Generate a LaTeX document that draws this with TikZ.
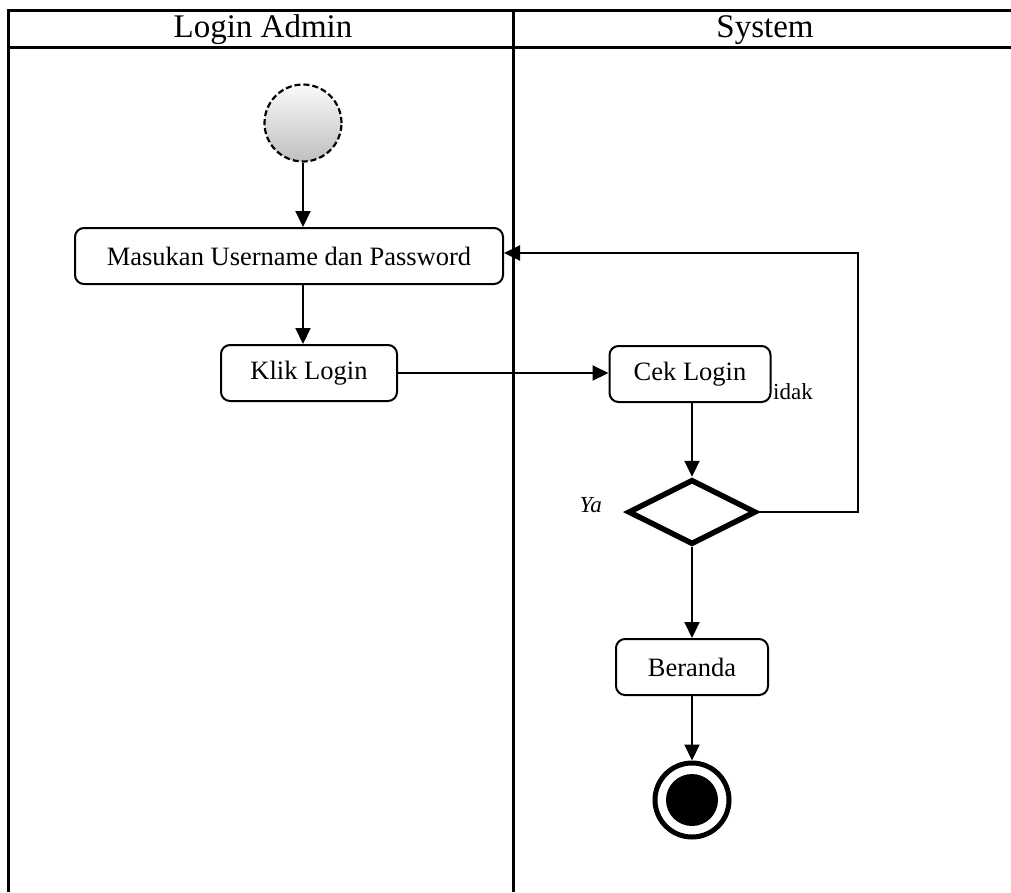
\documentclass[tikz,border=0pt]{standalone}
\usepackage{fontspec}
\setmainfont{Liberation Serif}
\usetikzlibrary{arrows.meta,shapes.geometric,calc}
\begin{document}
\begin{tikzpicture}[x=1pt,y=-1pt,
  lane/.style={line width=3pt},
  act/.style={draw,line width=2pt,rounded corners=9pt,fill=white,align=center,
    font=\fontsize{26.5}{30}\selectfont,inner sep=0pt},
  flow/.style={line width=2pt,-{Triangle[length=16pt,width=15pt]}},
  head/.style={font=\fontsize{33}{36}\selectfont}
]
\useasboundingbox (0,0) rectangle (1011,892);
% swimlane frame
\draw[lane] (1011,10) -- (8,10) -- (8,892);
\draw[lane] (8,47) -- (1011,47);
\draw[lane] (513,10) -- (513,892);
\node[head] (h1) at (263,30) {Login Admin};
\node[head] (h2) at (765,30) {System};

% initial node
\node[circle,minimum size=77pt,inner sep=0pt,top color=gray!4,bottom color=gray!50,
  draw,line width=2.2pt,dash pattern=on 6pt off 3pt] (start) at (303,123) {};

% activities
\node[act,minimum width=428pt,minimum height=56pt] (masuk) at (289,256) {Masukan Username dan Password};
\node[act,minimum width=176pt,minimum height=56pt] (klik) at (309,373) {Klik Login};
\node[act,minimum width=161pt,minimum height=56pt] (cek) at (690,374) {Cek Login};
\node[act,minimum width=152pt,minimum height=56pt] (beranda) at (692,667) {Beranda};

% decision
\node[diamond,draw,line width=5.5pt,minimum width=128pt,minimum height=65pt,inner sep=0pt,aspect=2] (dec) at (692,512) {};

% final node
\node[circle,draw,line width=5pt,minimum size=74pt,inner sep=0pt] (fin) at (692,800) {};
\node[circle,fill=black,minimum size=52pt,inner sep=0pt] (fincore) at (fin.center) {};

% guard labels
\node[anchor=west,font=\fontsize{23}{26}\selectfont,inner sep=0pt] (tidak) at (773,392) {idak};
\node[anchor=east,font=\itshape\fontsize{23}{26}\selectfont,inner sep=0pt] (ya) at (602,505) {Ya};

% control flows
\draw[flow] (start.south) -- (start |- masuk.north);
\draw[flow] (masuk.south -| start) -- (klik.north -| start);
\draw[flow] (klik) -- (klik -| cek.west);
\draw[flow] (cek.south -| dec.north) -- (dec.north);
\draw[flow] (dec.east) -- ++(99,0) |- ($(masuk.east)+(0,-3)$);
\draw[flow] (dec.south) -- (beranda);
\draw[flow] (beranda) -- (fin);
\end{tikzpicture}
\end{document}
